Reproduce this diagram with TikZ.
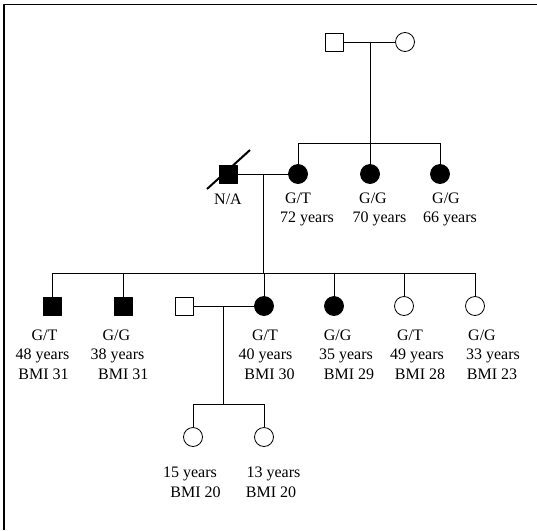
\documentclass[tikz,border=0pt]{standalone}
\usepackage{fontspec}
\setmainfont{Liberation Serif}
\begin{document}
\begin{tikzpicture}[x=1pt,y=-1pt,line join=round,line width=0.8pt]
	\tikzset{every node/.style={font=\fontsize{16}{19}\selectfont,inner sep=0pt},
		male/.style={draw,rectangle,minimum size=18pt},
		female/.style={draw,circle,minimum size=19pt},
		aff/.style={fill=black},
		lab/.style={anchor=base}}
	\useasboundingbox (0,0) rectangle (537,530);
	\draw[line width=1.4pt] (4,530)--(4,4.5)--(537,4.5);
	% generation I
	\node[male] (gf) at (334,42) {};
	\node[female] (gm) at (405,42) {};
	\coordinate (m1) at (370,42);
	\coordinate (s1) at (370,143);
	\draw (gf)--(gm);
	\draw (m1)--(s1);
	% generation II
	\node[male,aff] (d) at (228,174) {};
	\foreach \n/\x in {a1/298,a2/370,a3/440}
	\node[female,aff] (\n) at (\x,174) {};
	\draw (a1.north |- s1)--(a3.north |- s1);
	\foreach \n in {a1,a2,a3}
	\draw (\n.north |- s1)--(\n);
	\draw (d)--(a1);
	\draw[line width=2pt] (d)+(-21,15)--+(22,-24);
	\coordinate (m2) at (263,174);
	\coordinate (s2) at (263,273);
	\draw (m2)--(s2);
	% generation III
	\node[male,aff] (b1) at (52,306) {};
	\node[male,aff] (b2) at (123,306) {};
	\node[female,aff] (b3) at (264,306) {};
	\node[female,aff] (b4) at (334,306) {};
	\node[female] (b5) at (404,306) {};
	\node[female] (b6) at (475,306) {};
	\node[male] (h) at (184,306) {};
	\draw (b1.north |- s2)--(b6.north |- s2);
	\foreach \n in {b1,b2,b3,b4,b5,b6}
	\draw (\n.north |- s2)--(\n);
	\draw (h)--(b3);
	\coordinate (m3) at (223,306);
	\coordinate (s3) at (223,404);
	\draw (m3)--(s3);
	% generation IV
	\node[female] (c1) at (193,437) {};
	\node[female] (c2) at (264,437) {};
	\draw (c1.north |- s3)--(c2.north |- s3);
	\foreach \n in {c1,c2}
	\draw (\n.north |- s3)--(\n);
	% labels
	\foreach \x/\y/\t [count=\i] in {228/204/{N/A},
		298/203/{G/T},307/222.5/{72 years},
		373/203/{G/G},379.5/222.5/{70 years},
		446/203/{G/G},450/222.5/{66 years},
		44.5/340/{G/T},42.5/359.5/{48 years},43.5/379/{BMI 31},
		116.3/340/{G/G},117.5/359.5/{38 years},123.3/379/{BMI 31},
		265/340/{G/T},265.5/359.5/{40 years},269.5/379/{BMI 30},
		337.7/340/{G/G},346/359.5/{35 years},349/379/{BMI 29},
		410/340/{G/T},417/359.5/{49 years},420/379/{BMI 28},
		482/340/{G/G},493/359.5/{33 years},492/379/{BMI 23},
		190/477/{15 years},195.5/497/{BMI 20},
		273.5/477/{13 years},271/497/{BMI 20}}
	\node[lab] (t\i) at (\x,\y) {\t};
\end{tikzpicture}
\end{document}
